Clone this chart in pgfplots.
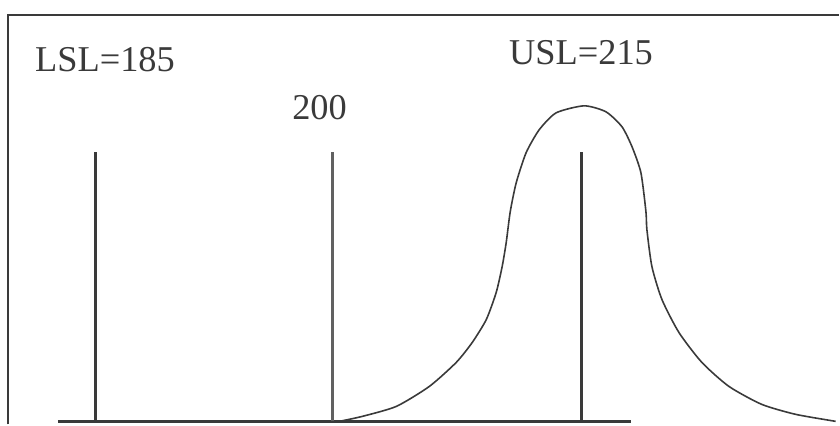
\documentclass[border=0pt]{standalone}
\usepackage{pgfplots}
\pgfplotsset{compat=1.18}
\usepackage{fontspec}
\setmainfont{Liberation Serif}
\definecolor{ink}{HTML}{3A3A3A}
\begin{document}
\begin{tikzpicture}
\begin{axis}[
  scale only axis, width=420pt, height=212.5pt,
  xmin=179.07, xmax=230.93, ymin=-3, ymax=422,
  hide axis, clip=false,
]
\path (rel axis cs:0,0) rectangle (rel axis cs:1,1);
% frame
\addplot[ink, line width=1.3pt] coordinates {(179.57,-3) (179.57,407) (230.93,407)};
% baseline
\addplot[ink, line width=1.5pt] coordinates {(182.65,0) (218.09,0)};
% vertical lines
\addplot[ink, line width=1.5pt] coordinates {(185,0) (185,270)};
\addplot[ink!80, line width=1.5pt] coordinates {(199.63,0) (199.63,270)};
\addplot[ink, line width=1.5pt] coordinates {(215,0) (215,270)};
% distribution curve
\addplot[ink, line width=0.8pt, smooth, tension=0.4] coordinates {
(200.06,0) (201.48,5) (203.58,15) (205.62,35) (207.28,59) (208.27,79)
(209.14,102) (209.75,129) (210.12,155) (210.37,179) (210.62,210)
(210.99,239) (211.60,269) (212.41,292) (213.46,309) (215.19,316)
(216.54,310) (217.53,295) (218.15,275) (218.70,249) (219.01,210)
(219.07,192) (219.38,155) (220.0,122) (221.05,89) (222.47,59)
(224.14,35) (226.17,17) (228.27,7) (230.74,0)};
\node[text=ink] at (axis cs:185.56,362) {\fontsize{18.2}{20}\selectfont LSL=185};
\node[text=ink] at (axis cs:198.83,314) {\fontsize{18.2}{20}\selectfont 200};
\node[text=ink] at (axis cs:215.0,369) {\fontsize{18.2}{20}\selectfont USL=215};
\end{axis}
\end{tikzpicture}
\end{document}
